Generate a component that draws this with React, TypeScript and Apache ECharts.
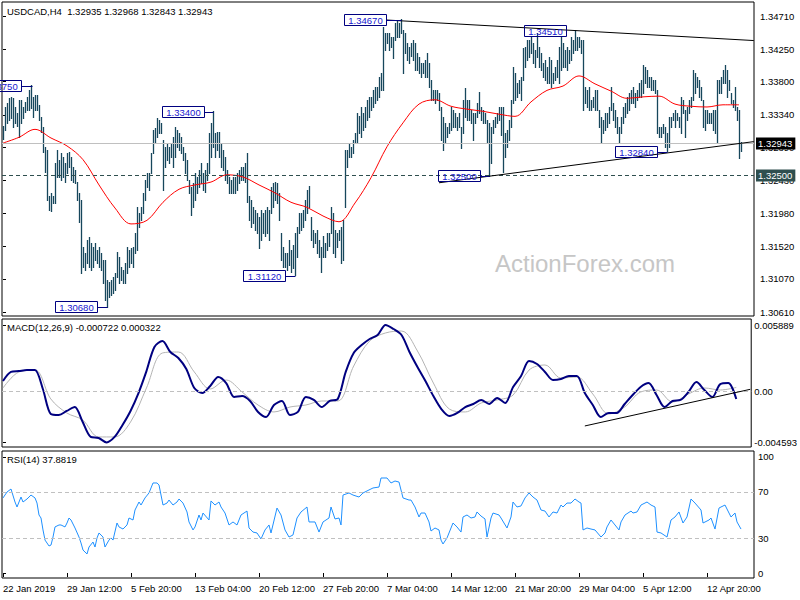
import React, { useEffect, useRef } from "react";
import * as echarts from "echarts";

const FONT = "'Liberation Sans', Arial, sans-serif";
const FS = 9.5;
const BAR_COLOR = "#17475c";

// H4 bars: highs and lows, bar index 0 = 22 Jan 2019 00:00
const HIGH = [
  1.3318,1.3345,1.3350,1.3357,1.3359,1.3357,1.3345,1.3337,1.3355,1.3355,
  1.3345,1.3352,1.3359,1.3368,1.3375,1.3359,1.3362,1.3362,1.3348,1.3331,
  1.3317,1.3290,1.3285,1.3221,1.3226,1.3221,1.3267,1.3285,1.3272,1.3281,
  1.3276,1.3267,1.3281,1.3283,1.3276,1.3262,1.3258,1.3241,1.3226,1.3216,
  1.3151,1.3143,1.3161,1.3165,1.3156,1.3151,1.3156,1.3147,1.3151,1.3143,
  1.3133,1.3133,1.3105,1.3102,1.3105,1.3110,1.3115,1.3144,1.3137,1.3123,
  1.3119,1.3129,1.3151,1.3147,1.3150,1.3151,1.3170,1.3206,1.3198,1.3206,
  1.3226,1.3244,1.3253,1.3253,1.3281,1.3313,1.3316,1.3330,1.3327,1.3323,
  1.3299,1.3290,1.3295,1.3290,1.3295,1.3304,1.3317,1.3313,1.3309,1.3304,
  1.3290,1.3281,1.3272,1.3244,1.3234,1.3240,1.3253,1.3248,1.3258,1.3267,
  1.3253,1.3258,1.3267,1.3309,1.3323,1.3340,1.3309,1.3310,1.3310,1.3295,
  1.3285,1.3276,1.3258,1.3248,1.3244,1.3248,1.3248,1.3253,1.3258,1.3262,
  1.3262,1.3267,1.3281,1.3221,1.3216,1.3206,1.3202,1.3198,1.3193,1.3202,
  1.3198,1.3202,1.3206,1.3202,1.3234,1.3240,1.3241,1.3240,1.3226,1.3170,
  1.3151,1.3143,1.3143,1.3161,1.3147,1.3154,1.3170,1.3179,1.3198,1.3198,
  1.3202,1.3216,1.3230,1.3236,1.3193,1.3175,1.3170,1.3175,1.3161,1.3151,
  1.3166,1.3156,1.3170,1.3170,1.3206,1.3198,1.3175,1.3170,1.3175,1.3179,
  1.3188,1.3285,1.3285,1.3295,1.3290,1.3299,1.3309,1.3337,1.3332,1.3345,
  1.3337,1.3345,1.3355,1.3359,1.3359,1.3368,1.3373,1.3373,1.3387,1.3392,
  1.3456,1.3447,1.3447,1.3447,1.3442,1.3442,1.3461,1.3465,1.3461,1.3467,
  1.3452,1.3447,1.3434,1.3428,1.3434,1.3438,1.3434,1.3420,1.3414,1.3406,
  1.3406,1.3410,1.3420,1.3406,1.3382,1.3368,1.3368,1.3368,1.3364,1.3345,
  1.3331,1.3323,1.3317,1.3323,1.3345,1.3341,1.3337,1.3331,1.3337,1.3317,
  1.3355,1.3371,1.3355,1.3355,1.3341,1.3337,1.3337,1.3350,1.3366,1.3345,
  1.3341,1.3337,1.3327,1.3323,1.3317,1.3327,1.3331,1.3337,1.3345,1.3345,
  1.3345,1.3309,1.3313,1.3327,1.3355,1.3400,1.3392,1.3378,1.3382,1.3387,
  1.3427,1.3428,1.3438,1.3438,1.3442,1.3434,1.3424,1.3447,1.3428,1.3420,
  1.3406,1.3410,1.3400,1.3414,1.3410,1.3392,1.3400,1.3410,1.3428,1.3442,
  1.3434,1.3424,1.3428,1.3424,1.3442,1.3438,1.3451,1.3442,1.3442,1.3438,
  1.3438,1.3373,1.3368,1.3373,1.3355,1.3359,1.3368,1.3368,1.3341,1.3331,
  1.3327,1.3337,1.3337,1.3345,1.3373,1.3350,1.3341,1.3331,1.3317,1.3331,
  1.3345,1.3350,1.3359,1.3364,1.3368,1.3373,1.3364,1.3368,1.3378,1.3382,
  1.3403,1.3400,1.3396,1.3387,1.3387,1.3382,1.3382,1.3368,1.3317,1.3317,
  1.3321,1.3317,1.3309,1.3331,1.3331,1.3337,1.3341,1.3337,1.3331,1.3359,
  1.3355,1.3341,1.3345,1.3355,1.3359,1.3396,1.3392,1.3387,1.3382,1.3373,
  1.3355,1.3341,1.3341,1.3337,1.3337,1.3341,1.3341,1.3382,1.3382,1.3387,
  1.3396,1.3403,1.3396,1.3382,1.3364,1.3355,1.3373,1.3345,1.3341,1.32968,
];
const LOW = [
  1.3300,1.3313,1.3323,1.3327,1.3330,1.3317,1.3323,1.3318,1.3303,1.3323,
  1.3330,1.3338,1.3341,1.3341,1.3344,1.3331,1.3341,1.3341,1.3327,1.3310,
  1.3283,1.3255,1.3216,1.3202,1.3201,1.3212,1.3212,1.3248,1.3248,1.3244,
  1.3248,1.3241,1.3253,1.3262,1.3244,1.3241,1.3240,1.3216,1.3186,1.3115,
  1.3124,1.3119,1.3129,1.3124,1.3119,1.3124,1.3133,1.3129,1.3124,1.3119,
  1.3101,1.3078,1.3068,1.3082,1.3085,1.3087,1.3092,1.3110,1.3101,1.3105,
  1.3101,1.3101,1.3115,1.3124,1.3129,1.3124,1.3143,1.3147,1.3179,1.3188,
  1.3198,1.3216,1.3234,1.3230,1.3253,1.3281,1.3295,1.3303,1.3309,1.3309,
  1.3230,1.3262,1.3272,1.3267,1.3276,1.3262,1.3276,1.3290,1.3285,1.3281,
  1.3272,1.3253,1.3244,1.3226,1.3195,1.3206,1.3216,1.3226,1.3234,1.3240,
  1.3230,1.3227,1.3244,1.3253,1.3276,1.3290,1.3276,1.3285,1.3276,1.3262,
  1.3258,1.3244,1.3240,1.3226,1.3226,1.3226,1.3226,1.3230,1.3240,1.3244,
  1.3244,1.3241,1.3213,1.3188,1.3179,1.3184,1.3175,1.3170,1.3150,1.3161,
  1.3170,1.3166,1.3170,1.3161,1.3198,1.3206,1.3216,1.3212,1.3188,1.3133,
  1.3124,1.3124,1.3119,1.3126,1.3116,1.3122,1.3112,1.3137,1.3170,1.3175,
  1.3179,1.3188,1.3198,1.3206,1.3161,1.3151,1.3156,1.3143,1.3137,1.3116,
  1.3137,1.3137,1.3147,1.3152,1.3170,1.3143,1.3137,1.3151,1.3161,1.3129,
  1.3133,1.3206,1.3262,1.3276,1.3276,1.3281,1.3295,1.3295,1.3309,1.3304,
  1.3313,1.3317,1.3327,1.3331,1.3341,1.3345,1.3350,1.3355,1.3359,1.3368,
  1.3368,1.3424,1.3434,1.3424,1.3428,1.3413,1.3438,1.3442,1.3442,1.3447,
  1.3392,1.3420,1.3410,1.3406,1.3415,1.3410,1.3396,1.3396,1.3392,1.3387,
  1.3392,1.3387,1.3387,1.3373,1.3355,1.3355,1.3350,1.3355,1.3341,1.3299,
  1.3285,1.3295,1.3303,1.3309,1.3313,1.3317,1.3317,1.3313,1.3317,1.3288,
  1.3309,1.3331,1.3327,1.3327,1.3323,1.3299,1.3323,1.3331,1.3337,1.3327,
  1.3323,1.3323,1.3295,1.3250,1.3267,1.3309,1.3317,1.3323,1.3327,1.3306,
  1.3255,1.3276,1.3290,1.3299,1.3317,1.3350,1.3355,1.3359,1.3364,1.3355,
  1.3382,1.3400,1.3410,1.3414,1.3420,1.3406,1.3400,1.3414,1.3400,1.3396,
  1.3387,1.3382,1.3378,1.3378,1.3373,1.3378,1.3382,1.3387,1.3378,1.3396,
  1.3400,1.3400,1.3396,1.3406,1.3410,1.3420,1.3424,1.3424,1.3428,1.3420,
  1.3341,1.3350,1.3345,1.3341,1.3341,1.3345,1.3341,1.3341,1.3317,1.3296,
  1.3309,1.3313,1.3317,1.3323,1.3341,1.3327,1.3317,1.3309,1.3295,1.3309,
  1.3323,1.3331,1.3337,1.3341,1.3350,1.3350,1.3345,1.3355,1.3359,1.3359,
  1.3364,1.3378,1.3373,1.3373,1.3368,1.3368,1.3364,1.3309,1.3303,1.3303,
  1.3309,1.3290,1.3284,1.3290,1.3317,1.3327,1.3317,1.3327,1.3317,1.3309,
  1.3337,1.3304,1.3327,1.3337,1.3345,1.3355,1.3364,1.3373,1.3359,1.3355,
  1.3317,1.3313,1.3323,1.3323,1.3323,1.3313,1.3309,1.3296,1.3364,1.3364,
  1.3378,1.3378,1.3359,1.3368,1.3350,1.3345,1.3341,1.3327,1.3274,1.32843,
];

// Moving average, one reading every MA_STEP bars
const MA_STEP = 8;
const MA = [
  1.3295,1.3303,1.3314,1.3302,1.3291,1.3272,1.3237,1.3205,1.3183,1.3188,
  1.3213,1.3231,1.3237,1.3241,1.3251,1.3248,1.3237,1.3226,1.3213,1.3206,
  1.3194,1.3186,1.3212,1.3247,1.3290,1.3323,1.3349,1.3355,1.3346,1.3342,
  1.3339,1.3335,1.3332,1.3352,1.3368,1.3374,1.3388,1.3377,1.3367,1.3357,
  1.3359,1.3360,1.3349,1.3346,1.3345,1.3348,1.3348,
];

// MACD(12,26,9) main line, one reading every MACD_STEP bars
const MACD_STEP = 4;
const MACD = [
  0.00089,0.00170,0.00178,0.00187,0.00187,0.00018,-0.00205,-0.00214,-0.00178,-0.00143,
  -0.00277,-0.00410,-0.00419,-0.00459,-0.00410,-0.00303,-0.00178,-0.00018,0.00178,0.00393,
  0.00446,0.00348,0.00294,0.00196,0.00027,-0.00018,0.00045,0.00125,0.00071,-0.00054,
  -0.00045,-0.00089,-0.00187,-0.00232,-0.00125,-0.00089,-0.00214,-0.00187,-0.00054,-0.00080,
  -0.00143,-0.00089,-0.00071,0.00170,0.00339,0.00410,0.00464,0.00500,0.00589,0.00553,
  0.00500,0.00348,0.00214,0.00089,-0.00045,-0.00161,-0.00223,-0.00196,-0.00143,-0.00116,
  -0.00080,-0.00116,-0.00062,-0.00107,0.00036,0.00134,0.00268,0.00241,0.00170,0.00098,
  0.00107,0.00134,0.00134,-0.00018,-0.00125,-0.00232,-0.00196,-0.00196,-0.00116,-0.00036,
  0.00036,0.00071,-0.00036,-0.00143,-0.00089,-0.00080,-0.00009,0.00080,0.00009,-0.00054,
  0.00062,0.00071,-0.00072,
];

// MACD signal line, one reading every SIGNAL_STEP bars
const SIGNAL_STEP = 8;
const SIGNAL = [
  0.00027,0.00170,0.00187,-0.00071,-0.00196,-0.00259,-0.00410,-0.00410,-0.00277,0.00027,
  0.00339,0.00348,0.00170,0.00018,0.00098,-0.00009,-0.00125,-0.00187,-0.00143,-0.00125,
  -0.00089,-0.00089,0.00223,0.00446,0.00518,0.00535,0.00357,0.00071,-0.00161,-0.00187,
  -0.00107,-0.00080,-0.00036,0.00187,0.00232,0.00116,0.00125,-0.00027,-0.00205,-0.00143,
  -0.00009,0.00009,-0.00098,-0.00027,0.00027,0.00009,0.00032,
];

// RSI(14) readings: [bar index, value]
const RSI_POINTS = [
  [0,64.7],[2,69.8],[4,72.4],[6,61.2],[7,56.9],[9,65.5],[10,61.2],[12,63.8],[13,65.5],[14,67.2],
  [16,64.7],[17,60.3],[18,50.0],[19,47.4],[20,37.1],[21,28.4],[23,23.3],[24,24.1],[25,31.0],[26,39.7],
  [28,41.4],[29,41.4],[31,39.7],[32,43.1],[33,47.4],[34,45.7],[36,38.8],[38,31.0],[39,25.9],[40,19.8],
  [42,16.4],[43,22.4],[45,26.7],[46,22.4],[47,30.2],[48,34.5],[50,31.0],[51,22.4],[53,28.4],[54,30.2],
  [55,28.4],[57,43.1],[58,39.7],[60,37.9],[62,41.4],[63,47.4],[65,45.7],[66,54.3],[68,61.2],[69,58.6],
  [71,64.7],[73,69.0],[74,73.3],[75,77.6],[77,77.6],[78,75.9],[80,58.6],[82,60.3],[83,62.9],[85,58.6],
  [87,61.2],[88,63.8],[90,60.3],[92,52.6],[93,44.0],[95,37.1],[96,39.7],[98,50.0],[99,45.7],[100,51.7],
  [103,45.7],[104,62.1],[106,58.6],[108,61.2],[109,56.9],[111,51.7],[113,41.4],[115,44.0],[117,41.4],[119,50.0],
  [122,53.4],[123,38.8],[125,35.3],[127,34.5],[129,29.3],[131,37.1],[133,41.4],[134,34.5],[137,56.0],[139,50.0],
  [141,37.1],[143,31.0],[145,32.8],[147,47.4],[149,52.6],[152,56.9],[153,44.0],[156,44.0],[158,35.3],[160,44.0],
  [163,47.4],[164,56.9],[166,46.6],[168,47.4],[169,41.4],[170,67.2],[173,69.0],[175,67.2],[178,65.5],[180,69.0],
  [183,71.6],[185,73.3],[188,74.1],[189,81.9],[192,81.9],[194,77.6],[196,79.3],[198,78.4],[200,64.7],[203,62.9],
  [204,62.9],[206,56.9],[208,48.3],[209,51.7],[211,51.7],[213,44.0],[214,36.2],[216,38.8],[218,37.1],[219,28.4],
  [220,25.0],[222,30.2],[224,38.8],[225,43.1],[227,39.7],[229,35.3],[230,48.3],[232,50.0],[234,47.4],[236,48.3],
  [237,52.6],[239,49.1],[241,46.6],[242,31.0],[244,47.4],[245,51.7],[248,50.0],[249,47.4],[252,38.8],[254,48.3],
  [255,61.2],[257,56.9],[259,57.8],[261,64.7],[263,69.0],[265,65.5],[267,62.9],[269,54.3],[271,53.4],[273,48.3],
  [275,52.6],[277,51.7],[279,58.6],[280,56.9],[282,60.3],[284,60.3],[286,63.8],[288,61.2],[289,60.3],[290,37.1],
  [292,38.8],[294,37.9],[296,37.1],[299,31.0],[301,34.5],[302,39.7],[304,45.7],[306,41.4],[308,37.1],[309,44.0],
  [311,50.0],[314,53.4],[315,51.7],[317,52.6],[319,58.6],[322,61.2],[324,58.6],[326,56.9],[327,35.3],[329,34.5],
  [332,31.0],[334,45.7],[336,48.3],[338,52.6],[340,43.1],[342,48.3],[344,63.8],[346,60.3],[349,54.3],[350,43.1],
  [353,45.7],[354,47.4],[356,37.9],[358,56.0],[359,56.9],[361,58.6],[363,51.7],[364,48.3],[366,51.7],[367,44.0],
  [369,37.88],
];

const PRICE_TICKS = [1.3471, 1.3425, 1.338, 1.3334, 1.3289, 1.3243, 1.3198, 1.3152, 1.3107, 1.3061];
const MACD_TICKS = [0.005889, 0, -0.004593];
const RSI_TICKS = [100, 70, 30, 0];
const RSI_LEVELS = [70, 30];
const TIME_TICKS = [0, 32, 64, 96, 128, 160, 192, 224, 256, 288, 320, 352];
const TIME_LABELS = [
  "22 Jan 2019", "29 Jan 12:00", "5 Feb 20:00", "13 Feb 04:00", "20 Feb 12:00", "27 Feb 20:00",
  "7 Mar 04:00", "14 Mar 12:00", "21 Mar 20:00", "29 Mar 04:00", "5 Apr 12:00", "12 Apr 20:00",
];

// Price annotations: text, box centre (bar index), price, connector end (bar index)
const ANNOT_TEXT = ["1.33750", "1.33400", "1.30680", "1.31120", "1.34670", "1.34510", "1.32500", "1.32840"];
const ANNOT_X = [-1.75, 89.75, 36.6, 130.5, 180.8, 270.75, 228.1, 316.6];
const ANNOT_PRICE = [1.33747, 1.33385, 1.30673, 1.31102, 1.34655, 1.34509, 1.32487, 1.32826];
const ANNOT_END = [14.5, 105, 52.2, 146, 199, 270.75, 243, 332];

const LAST_PRICE = 1.32943;
const SUPPORT = 1.325;
const UPPER_TREND = [[191.5, 1.34655], [375.4, 1.3437]];
const LOWER_TREND = [[218, 1.324], [375.4, 1.3297]];
const MACD_TREND = [[292, -0.00312], [375, 0.00015]];

const HEADER = "USDCAD,H4  1.32935 1.32968 1.32843 1.32943";
const MACD_HEADER = "MACD(12,26,9) -0.000722 0.000322";
const RSI_HEADER = "RSI(14) 37.8819";

function buildOption(): any {
  const xAxes = [0, 1, 2].map((g) => ({
    type: "value",
    gridIndex: g,
    min: -0.5,
    max: 375.5,
    show: g === 2,
    axisLine: { show: false },
    splitLine: { show: false },
    axisTick: {
      show: g === 2,
      customValues: TIME_TICKS,
      length: 4,
      lineStyle: { color: "#000" },
    },
    axisLabel: {
      show: g === 2,
      customValues: TIME_TICKS,
      formatter: (v: number) => TIME_LABELS[TIME_TICKS.indexOf(v)] ?? "",
      align: "left",
      margin: 5,
      color: "#000",
      fontSize: FS,
      fontFamily: FONT,
    },
  }));

  const yBase = (g: number, min: number, max: number, ticks: number[], fmt: (v: number) => string, margin: number) => ({
    type: "value",
    gridIndex: g,
    position: "right",
    min,
    max,
    scale: true,
    splitLine: { show: false },
    axisLine: { show: false },
    axisTick: { show: true, customValues: ticks, length: 3, lineStyle: { color: "#000" } },
    axisLabel: {
      customValues: ticks,
      formatter: fmt,
      margin,
      color: "#000",
      fontSize: FS,
      fontFamily: FONT,
      align: "left",
    },
  });

  const lblBox = (text: string, bg: string) => ({
    show: true,
    position: "end",
    formatter: text,
    color: "#fff",
    backgroundColor: bg,
    padding: [1, 3, 1, 2],
    distance: 2,
    fontSize: FS,
    fontFamily: FONT,
  });

  return {
    animation: false,
    backgroundColor: "#ffffff",
    grid: [
      { left: 2, top: 2, width: 752, height: 314, show: true, borderColor: "#000", borderWidth: 1 },
      { left: 2, top: 319, width: 752, height: 128, show: true, borderColor: "#000", borderWidth: 1 },
      { left: 2, top: 451, width: 752, height: 127, show: true, borderColor: "#000", borderWidth: 1 },
    ],
    xAxis: xAxes,
    yAxis: [
      yBase(0, 1.305546, 1.34904, PRICE_TICKS, (v) => v.toFixed(5), 6),
      yBase(1, -0.0049968, 0.0064245, MACD_TICKS, (v) => (v === 0 ? "0.00" : v.toFixed(6)), 3),
      yBase(2, -4.31, 105.17, RSI_TICKS, (v) => String(v), 4),
    ],
    graphic: [
      {
        type: "text",
        x: 585,
        y: 263,
        z: 0,
        style: { text: "ActionForex.com", fill: "#c6c6c6", fontSize: 24, fontFamily: FONT, align: "center", verticalAlign: "middle" },
      },
      { type: "text", x: 7, y: 11, style: { text: HEADER, fill: "#000", fontSize: FS, fontFamily: FONT, verticalAlign: "middle" } },
      { type: "text", x: 7, y: 327, style: { text: MACD_HEADER, fill: "#000", fontSize: FS, fontFamily: FONT, verticalAlign: "middle" } },
      { type: "text", x: 7, y: 459, style: { text: RSI_HEADER, fill: "#000", fontSize: FS, fontFamily: FONT, verticalAlign: "middle" } },
    ],
    series: [
      {
        type: "custom",
        name: "bars",
        xAxisIndex: 0,
        yAxisIndex: 0,
        silent: true,
        z: 2,
        data: HIGH.map((h, i) => [i, h, LOW[i]]),
        encode: { x: 0, y: [1, 2] },
        renderItem: (params: any, api: any) => {
          const top = api.coord([api.value(0), api.value(1)]);
          const bot = api.coord([api.value(0), api.value(2)]);
          const x = Math.round(top[0]) + 0.5;
          return {
            type: "line",
            shape: { x1: x, y1: Math.round(top[1]), x2: x, y2: Math.round(bot[1]) + 1 },
            style: { stroke: BAR_COLOR, lineWidth: 1.3 },
          };
        },
      },
      {
        type: "line",
        name: "MA",
        xAxisIndex: 0,
        yAxisIndex: 0,
        data: MA.map((v, k) => [k * MA_STEP, v]),
        showSymbol: false,
        smooth: 0.35,
        silent: true,
        lineStyle: { color: "#ff0000", width: 1 },
        z: 3,
        markLine: {
          silent: true,
          precision: 6,
          symbol: ["none", "none"],
          label: { show: false },
          data: [
            { yAxis: LAST_PRICE, lineStyle: { color: "#c0c0c0", type: "solid", width: 1 }, label: lblBox("1.32943", "#000000") },
            { yAxis: SUPPORT, lineStyle: { color: "#2f4f4f", type: [4, 3], width: 1 }, label: lblBox("1.32500", "#2f4f4f") },
            [
              { coord: UPPER_TREND[0], lineStyle: { color: "#000", type: "solid", width: 1 } },
              { coord: UPPER_TREND[1] },
            ],
            [
              { coord: LOWER_TREND[0], lineStyle: { color: "#000", type: "solid", width: 1 } },
              { coord: LOWER_TREND[1] },
            ],
          ],
        },
      },
      {
        type: "custom",
        name: "annotations",
        xAxisIndex: 0,
        yAxisIndex: 0,
        silent: true,
        clip: false,
        z: 5,
        data: ANNOT_X.map((x, k) => [x, ANNOT_PRICE[k], ANNOT_END[k]]),
        encode: { x: 0, y: 1 },
        renderItem: (params: any, api: any) => {
          const c = api.coord([api.value(0), api.value(1)]);
          const e = api.coord([api.value(2), api.value(1)]);
          const w = 42;
          const h = 11;
          const left = Math.round(c[0] - w / 2) + 0.5;
          const y = Math.round(c[1]) + 0.5;
          const children: any[] = [
            { type: "rect", shape: { x: left, y: y - 6, width: w, height: h }, style: { fill: "none", stroke: "#000080", lineWidth: 1 } },
            {
              type: "text",
              style: {
                text: ANNOT_TEXT[params.dataIndex],
                x: left + w / 2,
                y: y,
                align: "center",
                verticalAlign: "middle",
                fill: "#1515d0",
                fontSize: FS,
                fontFamily: FONT,
              },
            },
          ];
          if (e[0] > left + w + 1) {
            children.push({
              type: "line",
              shape: { x1: left + w, y1: y, x2: Math.round(e[0]) + 0.5, y2: y },
              style: { stroke: "#000080", lineWidth: 1 },
            });
          }
          return { type: "group", children };
        },
      },
      {
        type: "line",
        name: "Signal",
        xAxisIndex: 1,
        yAxisIndex: 1,
        data: SIGNAL.map((v, k) => [k * SIGNAL_STEP, v]),
        showSymbol: false,
        smooth: 0.35,
        silent: true,
        lineStyle: { color: "#b4b4b4", width: 1 },
      },
      {
        type: "line",
        name: "MACD",
        xAxisIndex: 1,
        yAxisIndex: 1,
        data: MACD.map((v, k) => [k * MACD_STEP, v]),
        showSymbol: false,
        smooth: 0.3,
        silent: true,
        lineStyle: { color: "#000080", width: 2 },
        markLine: {
          silent: true,
          precision: 8,
          symbol: ["none", "none"],
          label: { show: false },
          data: [
            { yAxis: 0, lineStyle: { color: "#c0c0c0", type: [4, 3], width: 1 } },
            [
              { coord: MACD_TREND[0], lineStyle: { color: "#000", type: "solid", width: 1 } },
              { coord: MACD_TREND[1] },
            ],
          ],
        },
      },
      {
        type: "line",
        name: "RSI",
        xAxisIndex: 2,
        yAxisIndex: 2,
        data: RSI_POINTS,
        showSymbol: false,
        silent: true,
        lineStyle: { color: "#1e90ff", width: 1 },
        markLine: {
          silent: true,
          symbol: ["none", "none"],
          label: { show: false },
          data: RSI_LEVELS.map((lv) => ({ yAxis: lv, lineStyle: { color: "#c0c0c0", type: [4, 3], width: 1 } })),
        },
      },
    ],
  };
}

export default function App() {
  const ref = useRef<HTMLDivElement>(null);
  useEffect(() => {
    if (!ref.current) return;
    const chart = echarts.init(ref.current, null, { renderer: "svg", width: 800, height: 600 });
    chart.setOption(buildOption());
    return () => chart.dispose();
  }, []);
  return (
    <div
      ref={ref}
      style={{ position: "absolute", left: 0, top: 0, width: 800, height: 600, background: "#ffffff" }}
    />
  );
}
